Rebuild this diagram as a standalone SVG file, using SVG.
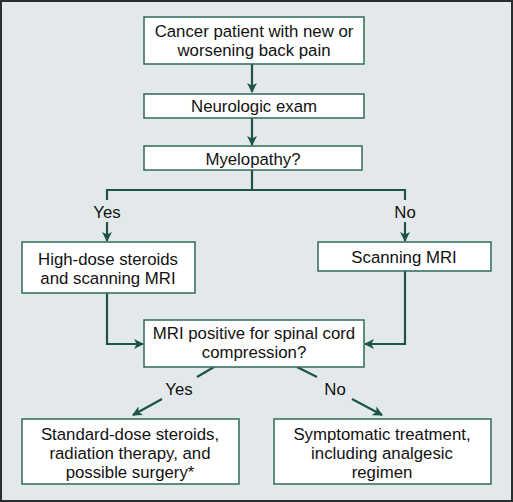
<svg xmlns="http://www.w3.org/2000/svg" width="513" height="502" viewBox="0 0 513 502">
<defs>
<marker id="ah" viewBox="0 0 10 10" refX="9" refY="5" markerWidth="4.5" markerHeight="4.5" markerUnits="strokeWidth" orient="auto">
<path d="M0,0 L10,5 L0,10 L2.5,5 Z" fill="#1d5446"/>
</marker>
</defs>
<style>
.box{fill:#ffffff;stroke:#2f6a58;stroke-width:1.5}
.ln{fill:none;stroke:#1d5446;stroke-width:2.2}
.ar{fill:none;stroke:#1d5446;stroke-width:2.2;marker-end:url(#ah)}
text{font-family:"Liberation Sans",Arial,sans-serif;font-size:16.8px;fill:#111;text-anchor:middle}
</style>
<rect x="1" y="1" width="511" height="500" fill="#e3e9ea" stroke="#2a2e2e" stroke-width="2"/>
<g id="connectors">
<line class="ar" x1="252" y1="64" x2="252" y2="92"/>
<line class="ar" x1="252" y1="118" x2="252" y2="145"/>
<path class="ln" d="M252,170 V190 M107,200 V190 H405 V200"/>
<line class="ar" x1="107" y1="222" x2="107" y2="241"/>
<line class="ar" x1="405" y1="222" x2="405" y2="241"/>
<path class="ar" d="M107,293 V344 H143"/>
<path class="ar" d="M405,271 V344 H365"/>
<line class="ln" x1="214" y1="367" x2="197" y2="377"/>
<line class="ar" x1="162" y1="399" x2="133" y2="415"/>
<line class="ln" x1="297" y1="367" x2="317" y2="377"/>
<line class="ar" x1="352" y1="399" x2="382" y2="415"/>
</g>
<g id="label-yes1"><text x="107" y="218">Yes</text></g>
<g id="label-no1"><text x="405" y="218">No</text></g>
<g id="label-yes2"><text x="179" y="395">Yes</text></g>
<g id="label-no2"><text x="335" y="395">No</text></g>
<g id="n1"><rect class="box" x="144" y="17" width="220" height="47"/>
<text x="254" y="37">Cancer patient with new or</text>
<text x="254" y="56">worsening back pain</text></g>
<g id="n2"><rect class="box" x="144" y="94" width="220" height="24"/>
<text x="254" y="112">Neurologic exam</text></g>
<g id="n3"><rect class="box" x="144" y="146" width="218" height="24"/>
<text x="253" y="165">Myelopathy?</text></g>
<g id="n4"><rect class="box" x="22" y="242" width="173" height="51"/>
<text x="108" y="265">High-dose steroids</text>
<text x="108" y="284">and scanning MRI</text></g>
<g id="n5"><rect class="box" x="318" y="242" width="173" height="29"/>
<text x="404" y="263">Scanning MRI</text></g>
<g id="n6"><rect class="box" x="144" y="320" width="220" height="47"/>
<text x="254" y="339">MRI positive for spinal cord</text>
<text x="254" y="358">compression?</text></g>
<g id="n7"><rect class="box" x="22" y="419" width="217" height="65"/>
<text x="130" y="440">Standard-dose steroids,</text>
<text x="130" y="459">radiation therapy, and</text>
<text x="130" y="478">possible surgery*</text></g>
<g id="n8"><rect class="box" x="274" y="419" width="217" height="65"/>
<text x="382" y="440">Symptomatic treatment,</text>
<text x="382" y="459">including analgesic</text>
<text x="382" y="478">regimen</text></g>
</svg>
